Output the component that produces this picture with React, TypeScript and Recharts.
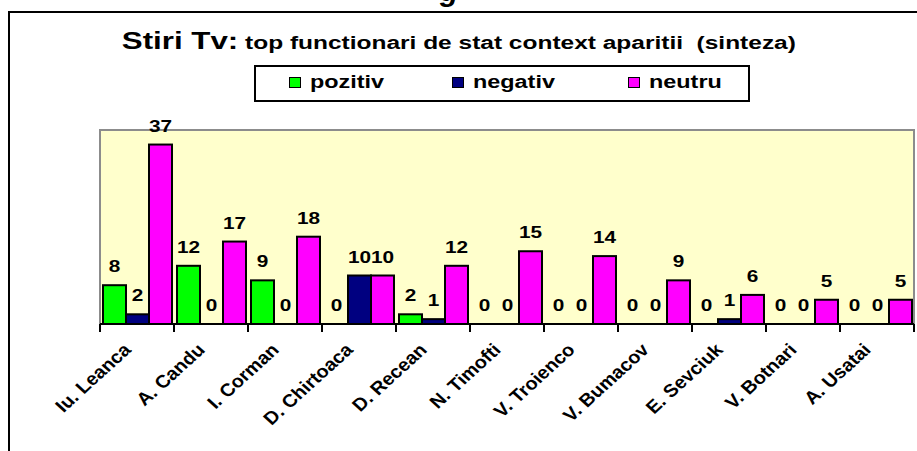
import React from 'react';
import { BarChart, Bar, XAxis, YAxis, ReferenceArea, LabelList } from 'recharts';

const categories = [
  'Iu. Leanca',
  'A. Candu',
  'I. Corman',
  'D. Chirtoaca',
  'D. Recean',
  'N. Timofti',
  'V. Troienco',
  'V. Bumacov',
  'E. Sevciuk',
  'V. Botnari',
  'A. Usatai'
];
const pozitiv = [8, 12, 9, 0, 2, 0, 0, 0, 0, 0, 0];
const negativ = [2, 0, 0, 10, 1, 0, 0, 0, 1, 0, 0];
const neutru = [37, 17, 18, 10, 12, 15, 14, 9, 6, 5, 5];
const yMax = 40;

const series = [
  { key: 'pozitiv', color: '#00FF00' },
  { key: 'negativ', color: '#000080' },
  { key: 'neutru', color: '#FF00FF' }
];

const data = categories.map((name, i) => ({
  name,
  pozitiv: pozitiv[i],
  negativ: negativ[i],
  neutru: neutru[i]
}));

const FONT = '"Liberation Sans", Arial, sans-serif';
const CHART_W = 917;
const CHART_H = 451;
const MARGIN = { top: 130, right: 3, left: 100, bottom: 97 };
const AXIS_H = 30;
const PLOT_BOTTOM = CHART_H - MARGIN.bottom - AXIS_H;
const PLOT_W = CHART_W - MARGIN.left - MARGIN.right;
const BAND = PLOT_W / categories.length;

const CategoryTick = (props: any) => {
  const { payload } = props;
  const x = Number(props.x);
  return (
    <g transform={`translate(${x - 5},${PLOT_BOTTOM + 27}) scale(1.1,1) rotate(-45)`}>
      <text
        x={0}
        y={0}
        textAnchor="end"
        fontFamily={FONT}
        fontWeight="bold"
        fontSize={18}
        fill="#000"
      >
        {payload.value}
      </text>
    </g>
  );
};

const ValueLabel = (props: any) => {
  const { x, y, width, value } = props;
  const cx = Number(x) + Number(width) / 2;
  return (
    <g transform={`translate(${cx},${Number(y) - 13}) scale(1.3,1)`}>
      <text
        x={0}
        y={0}
        textAnchor="middle"
        fontFamily={FONT}
        fontWeight="bold"
        fontSize={16}
        fill="#000"
      >
        {value}
      </text>
    </g>
  );
};

// zero bars get a hair of height so their "0" label is kept, but draw nothing
const BarShape = (props: any) => {
  const { x, y, width, height, fill } = props;
  if (!(height >= 1)) return null;
  return <rect x={x} y={y} width={width} height={height} fill={fill} stroke="#000" strokeWidth={2} />;
};

const legendPos = [289, 452, 628];

export default function App() {
  return (
    <div
      style={{
        position: 'absolute',
        left: 0,
        top: 0,
        width: CHART_W,
        height: CHART_H,
        overflow: 'hidden',
        background: '#fff',
        fontFamily: FONT
      }}
    >
      <span
        style={{
          position: 'absolute',
          left: 440,
          top: -24,
          fontSize: 30,
          lineHeight: '30px',
          fontWeight: 'bold',
          fontStyle: 'italic'
        }}
      >
        g
      </span>
      <div
        style={{
          position: 'absolute',
          left: 8,
          top: 11,
          right: -4,
          bottom: -4,
          borderTop: '2px solid #000',
          borderLeft: '2px solid #000'
        }}
      />
      <div
        style={{
          position: 'absolute',
          left: 0,
          top: 28,
          width: CHART_W,
          textAlign: 'center',
          fontWeight: 'bold',
          whiteSpace: 'pre'
        }}
      >
        <span style={{ display: 'inline-block', transform: 'scaleX(1.36)' }}>
          <span style={{ fontSize: 23 }}>Stiri Tv:</span>
          <span style={{ fontSize: 18 }}> top functionari de stat context aparitii  (sinteza)</span>
        </span>
      </div>
      <div
        style={{
          position: 'absolute',
          left: 254,
          top: 65,
          width: 496,
          height: 37,
          boxSizing: 'border-box',
          border: '2px solid #000',
          background: '#fff'
        }}
      />
      {series.map((s, i) => (
        <React.Fragment key={s.key}>
          <div
            style={{
              position: 'absolute',
              left: legendPos[i],
              top: 77,
              width: 12,
              height: 11,
              boxSizing: 'border-box',
              border: '1.5px solid #000',
              background: s.color
            }}
          />
          <div
            style={{
              position: 'absolute',
              left: legendPos[i] + 21,
              top: 71,
              fontSize: 18,
              lineHeight: '22px',
              fontWeight: 'bold',
              transform: 'scaleX(1.3)',
              transformOrigin: 'left center'
            }}
          >
            {s.key}
          </div>
        </React.Fragment>
      ))}
      <div style={{ position: 'absolute', left: 0, top: 0 }}>
        <BarChart
          width={CHART_W}
          height={CHART_H}
          data={data}
          margin={MARGIN}
          barCategoryGap={3}
          barGap={0}
        >
          <ReferenceArea
            x1={categories[0]}
            x2={categories[categories.length - 1]}
            y1={0}
            y2={yMax}
            fill="#FFFFCC"
            fillOpacity={1}
            stroke="#8c8c8c"
            strokeWidth={2}
            ifOverflow="visible"
          />
          <YAxis hide type="number" domain={[0, yMax]} />
          <XAxis
            dataKey="name"
            interval={0}
            tickLine={false}
            axisLine={{ stroke: '#000', strokeWidth: 2 }}
            height={AXIS_H}
            tick={<CategoryTick />}
          />
          {series.map((s) => (
            <Bar
              key={s.key}
              dataKey={s.key}
              fill={s.color}
              minPointSize={(v: any) => (v === 0 ? 0.5 : 0)}
              shape={<BarShape />}
              isAnimationActive={false}
            >
              <LabelList dataKey={s.key} position="top" content={<ValueLabel />} />
            </Bar>
          ))}
        </BarChart>
      </div>
      {/* tick marks on the category boundaries */}
      {categories.map((_, i) => i).concat(categories.length).map((i) => (
        <div
          key={i}
          style={{
            position: 'absolute',
            left: MARGIN.left + i * BAND - 1,
            top: PLOT_BOTTOM,
            width: 2,
            height: 8,
            background: '#000'
          }}
        />
      ))}
    </div>
  );
}
